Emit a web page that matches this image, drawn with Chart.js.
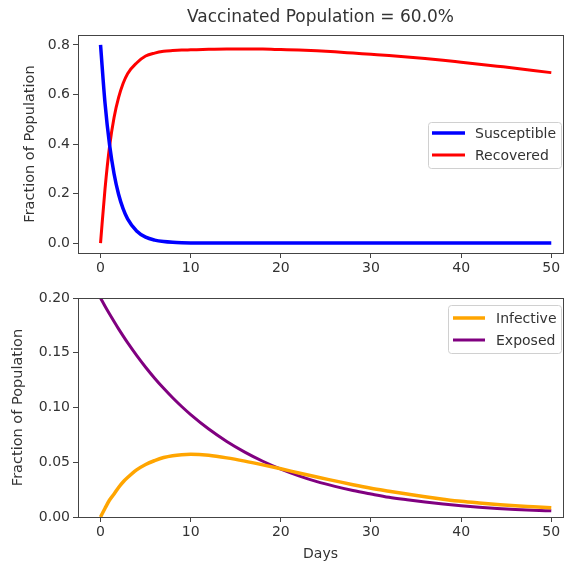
<!DOCTYPE html>
<html>
<head>
<meta charset="utf-8">
<script src="https://cdn.jsdelivr.net/npm/chart.js@4/dist/chart.umd.min.js"></script>
<style>
  html, body { margin: 0; padding: 0; background: #fff; }
  #wrap { position: relative; width: 566px; height: 563px; }
  canvas { position: absolute; left: 0; }
  #top { top: 0; }
  #bottom { top: 280px; }
</style>
</head>
<body>
<div id="wrap">
  <canvas id="top" width="566" height="280"></canvas>
  <canvas id="bottom" width="566" height="283"></canvas>
</div>
<script>
// values
const days = [0, 0.5, 1, 1.5, 2, 2.5, 3, 4, 5, 6, 7, 8, 9, 10, 12, 14, 16, 18, 20, 22, 24, 26, 28, 30, 32, 34, 36, 38, 40, 42, 44, 46, 48, 50];

const susceptible = [0.800, 0.564, 0.397, 0.280, 0.197, 0.139, 0.098, 0.049, 0.024, 0.012, 0.006, 0.003, 0.0015, 0.0008, 0.0003, 0.0001, 0, 0, 0, 0, 0, 0, 0, 0, 0, 0, 0, 0, 0, 0, 0, 0, 0, 0];
const recovered = [0, 0.22, 0.39, 0.507, 0.587, 0.644, 0.684, 0.727, 0.755, 0.767, 0.774, 0.777, 0.779, 0.780, 0.782, 0.783, 0.783, 0.783, 0.781, 0.779, 0.776, 0.772, 0.767, 0.762, 0.757, 0.751, 0.745, 0.738, 0.730, 0.722, 0.714, 0.706, 0.697, 0.688];
const infective = [0, 0.008, 0.0155, 0.021, 0.027, 0.032, 0.036, 0.043, 0.048, 0.0515, 0.0543, 0.0560, 0.0569, 0.0572, 0.0563, 0.0540, 0.0510, 0.0476, 0.0440, 0.0402, 0.0365, 0.0330, 0.0295, 0.0263, 0.0236, 0.0210, 0.0185, 0.0163, 0.0143, 0.0128, 0.0115, 0.0103, 0.0094, 0.0085];
const exposed = [0.200, 0.1925, 0.1854, 0.1785, 0.1718, 0.1654, 0.1592, 0.1476, 0.1368, 0.1268, 0.1175, 0.1089, 0.1009, 0.0935, 0.0803, 0.0690, 0.0593, 0.0509, 0.0437, 0.0376, 0.0323, 0.0280, 0.0242, 0.0210, 0.0180, 0.0157, 0.0136, 0.0118, 0.0102, 0.0089, 0.0078, 0.0069, 0.0062, 0.0056];

const xTicks = [0, 10, 20, 30, 40, 50];
const topYTicks = [0, 0.2, 0.4, 0.6, 0.8];
const bottomYTicks = [0, 0.05, 0.1, 0.15, 0.2];

const chartTitle = "Vaccinated Population = 60.0%";

const FONT = "'DejaVu Sans', sans-serif";
const INK = "#333";
const FRAME = "#444";

function pts(ys) {
  return days.map((d, i) => ({ x: d, y: ys[i] }));
}

// matplotlib style box around the plot, title over the axes, legend inside
const framePlugin = {
  id: "frame",
  afterDatasetsDraw(chart, args, opts) {
    const { ctx, chartArea: a } = chart;
    ctx.save();
    ctx.strokeStyle = FRAME;
    ctx.lineWidth = 1;
    ctx.strokeRect(a.left + 0.5, a.top + 0.5, a.right - a.left, a.bottom - a.top);

    if (opts.title) {
      ctx.fillStyle = INK;
      ctx.font = "17px " + FONT;
      ctx.textAlign = "center";
      ctx.textBaseline = "middle";
      ctx.fillText(opts.title, (a.left + a.right) / 2, 18);
      ctx.textAlign = "left";
    }

    const lg = opts.legend;
    if (lg) {
      ctx.fillStyle = "rgba(255,255,255,0.8)";
      ctx.strokeStyle = "#d0d0d0";
      ctx.lineWidth = 1;
      ctx.beginPath();
      ctx.roundRect(lg.x + 0.5, lg.y + 0.5, lg.w, lg.h, 3);
      ctx.fill();
      ctx.stroke();
      ctx.font = "14px " + FONT;
      ctx.textBaseline = "middle";
      chart.data.datasets.forEach((ds, i) => {
        const y = lg.rows[i];
        ctx.strokeStyle = ds.borderColor;
        ctx.lineWidth = ds.borderWidth;
        ctx.beginPath();
        ctx.moveTo(lg.x + lg.line[0], y);
        ctx.lineTo(lg.x + lg.line[1], y);
        ctx.stroke();
        ctx.fillStyle = INK;
        ctx.fillText(ds.label, lg.x + lg.text, y + 1);
      });
    }
    ctx.restore();
  }
};

function xScale(title) {
  return {
    type: "linear",
    min: -2.5,
    max: 51.3,
    afterBuildTicks: s => { s.ticks = xTicks.map(v => ({ value: v })); },
    afterFit: s => { s.height = title ? 46 : 27; },
    border: { display: false },
    grid: { drawOnChartArea: false, drawTicks: true, tickLength: 5, color: FRAME },
    ticks: { color: INK, font: { family: FONT, size: 14 }, padding: 2, maxRotation: 0 },
    title: title ? { display: true, text: title, color: INK, font: { family: FONT, size: 14 }, padding: { top: 2, bottom: 0 } } : { display: false }
  };
}

function yScale(min, max, ticks, digits, titlePad) {
  return {
    min: min,
    max: max,
    afterBuildTicks: s => { s.ticks = ticks.map(v => ({ value: v })); },
    afterFit: s => { s.width = 78; },
    border: { display: false },
    grid: { drawOnChartArea: false, drawTicks: true, tickLength: 5, color: FRAME },
    ticks: { color: INK, font: { family: FONT, size: 14 }, padding: 3, callback: v => v.toFixed(digits) },
    title: { display: true, text: "Fraction of Population", color: INK, font: { family: FONT, size: 14.5 }, padding: { top: titlePad, bottom: 0 } }
  };
}

function line(label, ys, color, width) {
  return {
    label: label,
    data: pts(ys),
    borderColor: color,
    backgroundColor: color,
    borderWidth: width,
    pointRadius: 0,
    fill: false,
    cubicInterpolationMode: "monotone"
  };
}

new Chart(document.getElementById("top"), {
  type: "line",
  data: {
    datasets: [
      line("Susceptible", susceptible, "#0000ff", 3.5),
      line("Recovered", recovered, "#ff0000", 3)
    ]
  },
  options: {
    responsive: false,
    animation: false,
    layout: { padding: { left: 0, right: 3, top: 35, bottom: 0 } },
    scales: {
      x: xScale(null),
      y: yScale(-0.04, 0.84, topYTicks, 1, 22)
    },
    plugins: {
      legend: { display: false },
      tooltip: { enabled: false },
      frame: {
        title: chartTitle,
        legend: { x: 428, y: 122, w: 133, h: 46, rows: [133, 155], line: [4, 37], text: 47 }
      }
    }
  },
  plugins: [framePlugin]
});

new Chart(document.getElementById("bottom"), {
  type: "line",
  data: {
    datasets: [
      line("Infective", infective, "#ffa500", 3.5),
      line("Exposed", exposed, "#800080", 3)
    ]
  },
  options: {
    responsive: false,
    animation: false,
    layout: { padding: { left: 0, right: 3, top: 18, bottom: 0 } },
    scales: {
      x: xScale("Days"),
      y: yScale(0, 0.2, bottomYTicks, 2, 10)
    },
    plugins: {
      legend: { display: false },
      tooltip: { enabled: false },
      frame: { legend: { x: 448, y: 25, w: 113, h: 48, rows: [38, 60], line: [5, 37], text: 48 } }
    }
  },
  plugins: [framePlugin]
});
</script>
</body>
</html>
